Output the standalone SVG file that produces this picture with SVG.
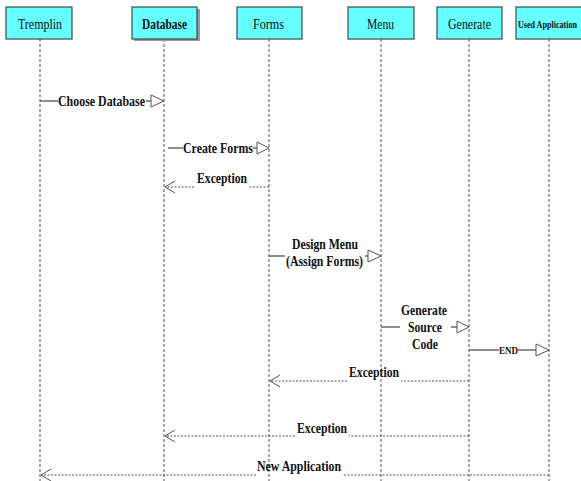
<svg xmlns="http://www.w3.org/2000/svg" width="581" height="481" viewBox="0 0 581 481">
  <style>
    .box { fill: #66ffff; stroke: #3a4a4a; stroke-width: 1.2; }
    .shadow { fill: #9a9a9a; }
    .head { font-family: "Liberation Serif", "Times New Roman", serif; font-size: 15px; fill: #111; text-anchor: middle; }
    .headb { font-family: "Liberation Serif", "Times New Roman", serif; font-size: 15px; font-weight: bold; fill: #111; text-anchor: middle; }
    .life { stroke: #555; stroke-width: 1; stroke-dasharray: 3 2; fill: none; }
    .msg { stroke: #444; stroke-width: 1.2; fill: none; }
    .ret { stroke: #555; stroke-width: 1; stroke-dasharray: 2 1.5; fill: none; }
    .tri { fill: #fff; stroke: #555; stroke-width: 1; }
    .vee { fill: none; stroke: #555; stroke-width: 1; }
    .lbl { font-family: "Liberation Serif", "Times New Roman", serif; font-size: 14px; font-weight: bold; fill: #111; text-anchor: middle; }
  </style>
  <rect width="581" height="481" fill="#fefefe"/>

  <!-- lifelines -->
  <g id="lifelines">
    <line class="life" x1="40" y1="39" x2="40" y2="481"/>
    <line class="life" x1="164" y1="39" x2="164" y2="481"/>
    <line class="life" x1="269" y1="39" x2="269" y2="481"/>
    <line class="life" x1="381" y1="39" x2="381" y2="481"/>
    <line class="life" x1="469" y1="39" x2="469" y2="481"/>
    <line class="life" x1="549" y1="39" x2="549" y2="481"/>
  </g>

  <!-- participants -->
  <g id="tremplin">
    <rect class="box" x="6" y="7" width="66" height="32"/>
    <text class="head" x="40" y="29" textLength="44" lengthAdjust="spacingAndGlyphs">Tremplin</text>
  </g>
  <g id="database">
    <rect class="shadow" x="134" y="9" width="66" height="32"/>
    <rect class="box" x="132" y="7" width="65" height="32"/>
    <text class="headb" x="164.5" y="29" textLength="45" lengthAdjust="spacingAndGlyphs">Database</text>
  </g>
  <g id="forms">
    <rect class="box" x="237" y="7" width="65" height="32"/>
    <text class="head" x="268.5" y="29" textLength="31" lengthAdjust="spacingAndGlyphs">Forms</text>
  </g>
  <g id="menu">
    <rect class="box" x="348" y="7" width="66" height="32"/>
    <text class="head" x="380.5" y="29" textLength="27" lengthAdjust="spacingAndGlyphs">Menu</text>
  </g>
  <g id="generate">
    <rect class="box" x="437" y="7" width="65" height="32"/>
    <text class="head" x="469.5" y="29" textLength="43" lengthAdjust="spacingAndGlyphs">Generate</text>
  </g>
  <g id="used-application">
    <rect class="box" x="516" y="7" width="66" height="32"/>
    <text class="headb" x="547.5" y="28" style="font-size:11px" textLength="59" lengthAdjust="spacingAndGlyphs">Used Application</text>
  </g>

  <!-- messages -->
  <g id="connectors">
    <!-- Choose Database -->
    <line class="msg" x1="40" y1="101" x2="58" y2="101"/>
    <line class="msg" x1="146" y1="101" x2="151" y2="101"/>
    <polygon class="tri" points="151,95 164,101 151,107"/>
    <text class="lbl" x="101.5" y="106" textLength="87" lengthAdjust="spacingAndGlyphs">Choose Database</text>

    <!-- Create Forms -->
    <line class="msg" x1="168" y1="148" x2="183" y2="148"/>
    <line class="msg" x1="253" y1="148" x2="257" y2="148"/>
    <polygon class="tri" points="257,142 269,148 257,154"/>
    <text class="lbl" x="218" y="153" textLength="70" lengthAdjust="spacingAndGlyphs">Create Forms</text>

    <!-- Exception: Forms to Database -->
    <line class="ret" x1="269" y1="187" x2="248" y2="187"/>
    <line class="ret" x1="194" y1="187" x2="165" y2="187"/>
    <polyline class="vee" points="175,181 165,187 175,193"/>
    <text class="lbl" x="222" y="183" textLength="50" lengthAdjust="spacingAndGlyphs">Exception</text>

    <!-- Design Menu (Assign Forms) -->
    <line class="msg" x1="269" y1="256" x2="285" y2="256"/>
    <line class="msg" x1="365" y1="256" x2="368" y2="256"/>
    <polygon class="tri" points="368,250 381,256 368,262"/>
    <text class="lbl" x="325" y="249" textLength="66" lengthAdjust="spacingAndGlyphs">Design Menu</text>
    <text class="lbl" x="324.5" y="266" textLength="77" lengthAdjust="spacingAndGlyphs">(Assign Forms)</text>

    <!-- Generate Source Code -->
    <line class="msg" x1="381" y1="327" x2="400" y2="327"/>
    <line class="msg" x1="451" y1="327" x2="457" y2="327"/>
    <polygon class="tri" points="457,321 469,327 457,333"/>
    <text class="lbl" x="424" y="315" textLength="46" lengthAdjust="spacingAndGlyphs">Generate</text>
    <text class="lbl" x="425" y="332" textLength="34" lengthAdjust="spacingAndGlyphs">Source</text>
    <text class="lbl" x="425" y="349" textLength="26" lengthAdjust="spacingAndGlyphs">Code</text>

    <!-- END -->
    <line class="msg" x1="469" y1="350" x2="499" y2="350"/>
    <line class="msg" x1="518" y1="350" x2="536" y2="350"/>
    <polygon class="tri" points="536,344 549,350 536,356"/>
    <text class="lbl" x="508.5" y="354" style="font-size:10px" textLength="19" lengthAdjust="spacingAndGlyphs">END</text>

    <!-- Exception: Generate to Forms -->
    <line class="ret" x1="469" y1="381" x2="401" y2="381"/>
    <line class="ret" x1="347" y1="381" x2="270" y2="381"/>
    <polyline class="vee" points="280,375 270,381 280,387"/>
    <text class="lbl" x="374" y="377" textLength="50" lengthAdjust="spacingAndGlyphs">Exception</text>

    <!-- Exception: Generate to Database -->
    <line class="ret" x1="469" y1="436" x2="349" y2="436"/>
    <line class="ret" x1="295" y1="436" x2="165" y2="436"/>
    <polyline class="vee" points="175,430 165,436 175,442"/>
    <text class="lbl" x="322" y="433" textLength="50" lengthAdjust="spacingAndGlyphs">Exception</text>

    <!-- New Application -->
    <line class="ret" x1="549" y1="475" x2="342" y2="475"/>
    <line class="ret" x1="256" y1="475" x2="41" y2="475"/>
    <polyline class="vee" points="51,469 41,475 51,481"/>
    <text class="lbl" x="299" y="471" textLength="84" lengthAdjust="spacingAndGlyphs">New Application</text>
  </g>
</svg>
